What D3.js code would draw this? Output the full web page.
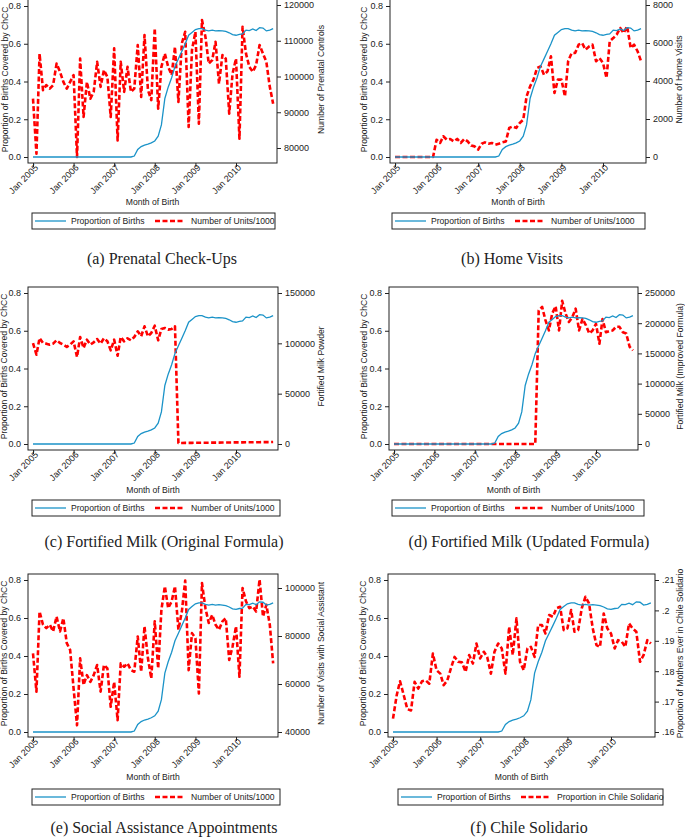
<!DOCTYPE html>
<html><head><meta charset="utf-8">
<script src="https://cdn.jsdelivr.net/npm/d3@7"></script>
<style>
body{margin:0;background:#fff;}
svg text{font-family:"Liberation Sans",Arial,sans-serif;fill:#222;}
</style></head><body>
<svg id="chart" width="685" height="840"></svg>
<script>
// ---------- DATA ----------
const months = d3.range(72).map(i => new Date(2005, i, 1)); // Jan 2005 .. Dec 2010
const xTickDates = d3.range(2005, 2011).map(y => new Date(y, 0, 1));
const leftTicks = [0, 0.2, 0.4, 0.6, 0.8];

const propBirths = [
  0,0,0,0,0,0,0,0,0,0,0,0,
  0,0,0,0,0,0,0,0,0,0,0,0,
  0,0,0,0,0,0,
  0.005,0.04,0.055,0.063,0.068,0.075,0.085,0.11,0.17,0.31,0.37,0.42,
  0.48,0.52,0.56,0.6,0.645,0.66,0.675,0.68,0.68,0.672,0.668,0.672,
  0.668,0.67,0.668,0.665,0.658,0.648,0.645,0.65,0.652,0.672,0.67,0.678,
  0.67,0.685,0.683,0.668,0.672,0.68
];
const prenatalControls = [
  93800,78400,106400,96200,97600,96600,97600,103600,101300,98500,96600,98500,
  100400,77500,105000,88700,98500,93800,95700,104100,97100,101800,99900,88700,
  107900,82100,104100,95700,102700,95700,96600,108800,94300,111600,96200,93400,
  113500,91000,102700,106400,102700,100400,108300,92900,109300,112500,85900,107400,
  112500,86800,115800,111100,103600,104600,109700,98000,106000,105000,89600,100800,
  105000,82600,113900,106400,102700,101300,103200,108800,106400,104100,97100,92400
];
const homeVisits = [
  0,0,0,0,0,0,0,0,0,0,0,0,
  910,740,1090,910,950,820,950,740,950,820,600,560,
  390,700,770,700,740,650,700,770,820,1530,1610,1530,
  1790,1960,3190,3720,4070,4680,4770,4330,4510,5300,3370,4070,
  4070,3190,5040,5470,5470,5910,6000,5650,5820,5910,5040,5210,
  4950,4160,6090,6260,6440,6790,6530,6880,5740,5910,5560,5040
];
const milkOriginal = [
  100300,88700,105300,100300,99700,98700,99700,103000,100300,98700,96400,98700,
  102000,86400,106300,95400,103600,98700,101000,104300,99700,105000,102000,93000,
  103600,87700,106300,102000,105000,103000,106300,111900,107000,116900,107000,110300,
  117500,103000,114200,115200,113600,114200,116900,1000,1050,1100,1100,1150,
  1200,1200,1250,1300,1300,1350,1400,1400,1450,1500,1500,1550,
  1600,1600,1650,1700,1700,1750,1800,1800,1850,1900,1900,2000
];
const milkImproved = [
  0,0,0,0,0,0,0,0,0,0,0,0,
  0,0,0,0,0,0,0,0,0,0,0,0,
  0,0,0,0,0,0,0,0,0,0,0,0,
  0,0,0,0,0,0,0,221000,227000,205000,188000,216000,
  228000,188000,237000,216000,202000,210000,224000,188000,207000,197000,183000,188000,
  199000,166000,207000,185000,187000,188000,194000,194000,185000,183000,161000,155000
];
const socialVisits = [
  72800,56800,90200,84700,83300,84700,81900,88100,81900,87400,77000,74200,
  58200,42800,70700,59600,63700,60900,63700,67900,56800,67900,66500,50500,
  60900,44900,68600,67200,68600,65800,65100,79800,65100,84000,70700,62300,
  86100,66500,90900,100700,91600,94400,100700,82600,90200,103100,65800,81200,
  79100,56100,102100,91600,85400,88800,84700,82600,86100,87400,70000,75600,
  84000,63000,100000,94400,91600,92300,90200,103500,88100,93000,84700,68600
];
const chileSolidario = [
  .1644,.1721,.1767,.1721,.1675,.1671,.1765,.1743,.1767,.1770,.1759,.1858,
  .1803,.1792,.1754,.1770,.1809,.1847,.1831,.1829,.1798,.1853,.1825,.1891,
  .1842,.1864,.1847,.1792,.1864,.1891,.1875,.1792,.1946,.1853,.1974,.1831,
  .1803,.1875,.1880,.1847,.1952,.1952,.1924,.1985,.1979,.2007,.2012,.1935,
  .1941,.2001,.1930,.1935,.2007,.2045,.2023,.1941,.1886,.1880,.1990,.1941,
  .1924,.1875,.1902,.1897,.1880,.1957,.1941,.1930,.1831,.1853,.1902,.1891
];
const ticksPrenatal = [80000, 90000, 100000, 110000, 120000];
const ticksHome = [0, 2000, 4000, 6000, 8000];
const ticksMilkOrig = [0, 50000, 100000, 150000];
const ticksMilkImp = [0, 50000, 100000, 150000, 200000, 250000];
const ticksSocial = [40000, 60000, 80000, 100000];
const ticksChile = [.16, .17, .18, .19, .2, .21];

const leftTitle = "Proportion of Births Covered by ChCC";
const xTitle = "Month of Birth";
const legendBlue = "Proportion of Births";

// ---------- LAYOUT ----------
const panels = [
  {series: prenatalControls, rTicks: ticksPrenatal, rTitle: "Number of Prenatal Controls",
   leg2: "Number of Units/1000", caption: "(a) Prenatal Check-Ups",
   box:[28,-1,277,163], xA:[33,236], lA:[157,6], rA:[148,5], lTX:5, rTX:321,
   xT:202, leg:[32,213,243], capX:162, capY:258},
  {series: homeVisits, rTicks: ticksHome, rTitle: "Number of Home Visits",
   leg2: "Number of Units/1000", caption: "(b) Home Visits",
   box:[390,-1,646,163], xA:[395,603], lA:[157,6], rA:[157,5], lTX:364, rTX:679,
   xT:202, leg:[392,213,253], capX:512, capY:258},
  {series: milkOriginal, rTicks: ticksMilkOrig, rTitle: "Fortified Milk Powder",
   leg2: "Number of Units/1000", caption: "(c) Fortified Milk (Original Formula)",
   box:[28,287,278,450], xA:[33,236], lA:[444,293], rA:[444,293], lTX:4, rTX:321,
   xT:490, leg:[32,500,248], capX:164, capY:541},
  {series: milkImproved, rTicks: ticksMilkImp, rTitle: "Fortified Milk (Improved Formula)",
   leg2: "Number of Units/1000", caption: "(d) Fortified Milk (Updated Formula)",
   box:[389,287,638,450], xA:[394,596], lA:[444,293], rA:[444,293], lTX:364, rTX:680,
   xT:490, leg:[392,500,252], capX:529, capY:541},
  {series: socialVisits, rTicks: ticksSocial, rTitle: "Number of Visits with Social Assistant",
   leg2: "Number of Units/1000", caption: "(e) Social Assistance Appointments",
   box:[28,574,278,737], xA:[33,236], lA:[732,580], rA:[732,588], lTX:4, rTX:321,
   xT:777, leg:[32,789,248], capX:164, capY:827},
  {series: chileSolidario, rTicks: ticksChile, rTitle: "Proportion of Mothers Ever in Chile Solidario",
   leg2: "Proportion in Chile Solidario", caption: "(f) Chile Solidario",
   box:[388,574,655,737], xA:[393,611], lA:[732,580], rA:[732,580], lTX:363, rTX:680,
   xT:777, leg:[398,789,265], capX:529, capY:827}
];

const BLUE = "#1b93c8", RED = "#ff0000";
const svg = d3.select("#chart");
const fmtRight = d => (d < 1 ? d3.format(".2~f")(d).replace(/^0\./, ".") : d3.format("d")(d));

panels.forEach((p, i) => {
  const [bx0, by0, bx1, by1] = p.box;
  const g = svg.append("g");
  const x = d3.scaleTime().domain([xTickDates[0], xTickDates[5]]).range(p.xA);
  const yL = d3.scaleLinear().domain([0, 0.8]).range(p.lA);
  const rT = p.rTicks;
  const yR = d3.scaleLinear().domain([rT[0], rT[rT.length - 1]]).range(p.rA);

  const clipId = "clip" + i;
  g.append("clipPath").attr("id", clipId).append("rect")
    .attr("x", bx0).attr("y", by0).attr("width", bx1 - bx0).attr("height", by1 - by0);

  // left axis
  const ax = g.append("g").attr("transform", `translate(${bx0},0)`)
    .call(d3.axisLeft(yL).tickValues(leftTicks).tickFormat(d3.format(".1f")).tickSize(4).tickPadding(3));
  ax.select(".domain").remove();
  // right axis
  const ar = g.append("g").attr("transform", `translate(${bx1},0)`)
    .call(d3.axisRight(yR).tickValues(rT).tickFormat(fmtRight).tickSize(4).tickPadding(3));
  ar.select(".domain").remove();
  // bottom axis
  const ab = g.append("g").attr("transform", `translate(0,${by1})`)
    .call(d3.axisBottom(x).tickValues(xTickDates).tickFormat(d3.timeFormat("Jan %Y")).tickSize(4));
  ab.select(".domain").remove();
  ab.selectAll(".tick text")
    .attr("text-anchor", "end")
    .attr("transform", "translate(3,3) rotate(-45)")
    .attr("dy", "0.35em").attr("y", 0).attr("x", 0);
  [ax, ar, ab].forEach(a => {
    a.selectAll("text").style("font-size", "9px").style("font-family", "'Liberation Sans', Arial, sans-serif").attr("fill", "#222");
    a.selectAll("line").attr("stroke", "#222");
  });

  // lines
  const lineL = d3.line().x((d, j) => x(months[j])).y(d => yL(d));
  const lineR = d3.line().x((d, j) => x(months[j])).y(d => yR(d));
  const pg = g.append("g").attr("clip-path", `url(#${clipId})`);
  pg.append("path").datum(p.series).attr("d", lineR)
    .attr("fill", "none").attr("stroke", RED).attr("stroke-width", 2.6)
    .attr("stroke-dasharray", "5,2.5").attr("stroke-linejoin", "round");
  pg.append("path").datum(propBirths).attr("d", lineL)
    .attr("fill", "none").attr("stroke", BLUE).attr("stroke-width", 1.3);

  // frame
  g.append("rect").attr("x", bx0).attr("y", by0).attr("width", bx1 - bx0).attr("height", by1 - by0)
    .attr("fill", "none").attr("stroke", "#222").attr("stroke-width", 1);

  // axis titles
  const cy = (Math.max(by0, 0) + by1) / 2 - 2;
  g.append("text").attr("transform", `translate(${p.lTX},${cy}) rotate(-90)`)
    .attr("text-anchor", "middle").attr("dy", "0.35em").style("font-size", "8.6px").text(leftTitle);
  g.append("text").attr("transform", `translate(${p.rTX},${cy}) rotate(-90)`)
    .attr("text-anchor", "middle").attr("dy", "0.35em").style("font-size", "8.6px").text(p.rTitle);
  g.append("text").attr("x", (bx0 + bx1) / 2).attr("y", p.xT).attr("dy", "0.35em")
    .attr("text-anchor", "middle").style("font-size", "8.6px").text(xTitle);

  // legend
  const [lx, ly, lw] = p.leg;
  const lg = g.append("g");
  lg.append("rect").attr("x", lx).attr("y", ly).attr("width", lw).attr("height", 16)
    .attr("fill", "#fff").attr("stroke", "#222").attr("stroke-width", 1);
  const my = ly + 8;
  lg.append("line").attr("x1", lx + 3).attr("x2", lx + 34).attr("y1", my).attr("y2", my)
    .attr("stroke", BLUE).attr("stroke-width", 1.3);
  lg.append("text").attr("x", lx + 39).attr("y", my).attr("dy", "0.35em")
    .style("font-size", "8.6px").text(legendBlue);
  lg.append("line").attr("x1", lx + 123).attr("x2", lx + 153).attr("y1", my).attr("y2", my)
    .attr("stroke", RED).attr("stroke-width", 2.6).attr("stroke-dasharray", "5,2.5");
  lg.append("text").attr("x", lx + 159).attr("y", my).attr("dy", "0.35em")
    .style("font-size", "8.6px").text(p.leg2);

  // caption
  svg.append("text").attr("x", p.capX).attr("y", p.capY).attr("dy", "0.35em")
    .attr("text-anchor", "middle")
    .style("font-family", "'Liberation Serif','Times New Roman',serif").style("font-size", "16px")
    .attr("fill", "#111").text(p.caption);
});
</script>
</body></html>
